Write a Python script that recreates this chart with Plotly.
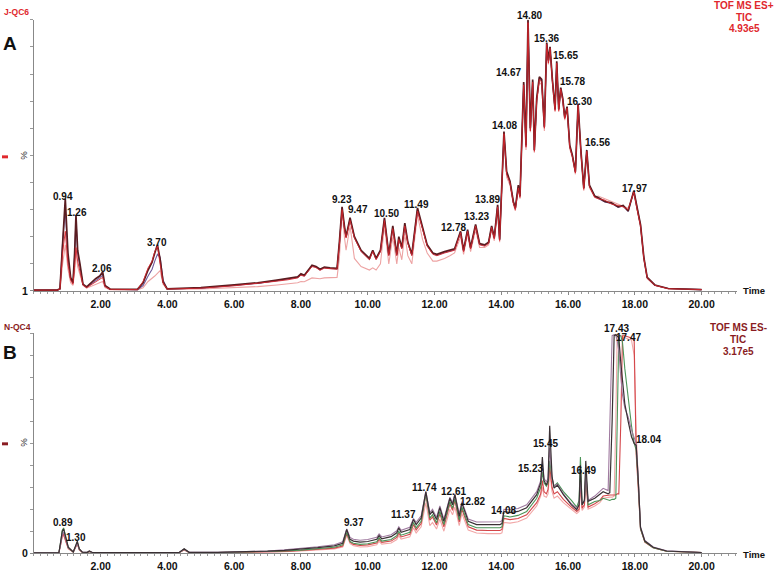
import numpy as np
import plotly.graph_objects as go

# ---------------- DATA: panel A (TOF MS ES+, TIC 4.93e5) ----------------
tA = [0.0, 0.70, 0.78, 0.86, 0.94, 1.02, 1.10, 1.17, 1.22, 1.26,
      1.31, 1.38, 1.47, 1.58, 1.70, 1.85, 1.97, 2.06, 2.13, 2.28,
      3.10, 3.27, 3.42, 3.54, 3.62, 3.70, 3.78, 3.87, 3.99, 5.00,
      6.00, 6.70, 7.28, 7.60, 7.90, 8.00, 8.10, 8.33, 8.45, 8.57,
      8.70, 8.87, 9.08, 9.15, 9.23, 9.30, 9.35, 9.47, 9.60, 9.80,
      10.05, 10.15, 10.25, 10.38, 10.50, 10.63, 10.75, 10.87, 10.93, 11.02,
      11.11, 11.20, 11.32, 11.49, 11.64, 11.78, 11.95, 12.07, 12.30, 12.46,
      12.60, 12.78, 12.87, 12.99, 13.08, 13.23, 13.35, 13.50, 13.62, 13.71,
      13.79, 13.89, 13.95, 14.08, 14.16, 14.26, 14.36, 14.42, 14.51, 14.56,
      14.61, 14.67, 14.74, 14.80, 14.87, 14.94, 14.99, 15.06, 15.14, 15.21,
      15.29, 15.36, 15.41, 15.46, 15.53, 15.57, 15.61, 15.66, 15.72, 15.78,
      15.84, 15.90, 15.97, 16.05, 16.13, 16.22, 16.30, 16.38, 16.47, 16.56,
      16.64, 16.80, 16.90, 17.10, 17.30, 17.50, 17.65, 17.80, 17.97, 18.07,
      18.17, 18.27, 18.37, 18.60, 19.00, 20.00]

A_dark = [0.3, 0.3, 0.8, 20, 34, 14, 5, 3, 14, 28,
          15, 10, 2.5, 1.5, 3, 4.5, 5.5, 7, 2, 0.7,
          0.6, 3, 7.7, 10.6, 14, 17, 11.7, 3.3, 0.8, 1.2,
          2.2, 3.0, 4.0, 4.5, 5.2, 6.3, 5.8, 9.5, 9.0, 8.0,
          8.8, 8.5, 8.3, 18, 31, 24, 20, 27, 20, 15,
          12, 15, 12, 15, 27, 13.5, 24, 13.5, 20, 16,
          25, 18, 13.5, 30.6, 23, 17, 14, 13.5, 14.5, 15,
          15.5, 22, 15, 22.6, 16, 24.5, 17.5, 17, 18, 24,
          19.7, 31.8, 19, 58.8, 44, 40.5, 33, 30.6, 39, 35,
          55, 77, 53.7, 100, 60, 78, 52, 71, 79, 78,
          60.6, 91.6, 85, 90, 78, 72, 67, 84.7, 67, 75,
          71, 64, 68, 53.7, 50, 44, 69, 52.5, 38, 52,
          39, 35, 34.5, 33, 32.5, 31, 31.5, 29.5, 37, 30.6,
          24.5, 12.4, 5, 2.2, 0.9, 0.5]

A_red = [0.3, 0.3, 0.6, 14, 22, 10, 4, 2.5, 9, 16,
         11, 7, 2.2, 1.2, 2.2, 3.5, 4.2, 5, 1.6, 0.6,
         0.5, 3.5, 8.5, 11, 14.5, 16.5, 10, 3, 0.7, 1.0,
         1.9, 2.7, 3.6, 4.1, 4.8, 5.8, 5.4, 9, 8.6, 7.6,
         8.4, 8.2, 8.0, 17, 30, 23, 19.5, 26, 19.5, 14.5,
         11.5, 14.5, 11.5, 14.5, 26, 13, 23, 13, 19, 15.5,
         24, 17.5, 13, 29.5, 22.5, 16.5, 13.5, 13, 14, 14.5,
         15, 21.5, 14.5, 22, 15.5, 24, 17, 16.5, 17.5, 23.5,
         19.2, 31, 18.6, 58, 43, 40, 32.5, 30, 38, 34.5,
         54, 76, 53, 99, 59, 77, 51.5, 70, 78, 77,
         60, 91, 84, 89.5, 77.5, 71.5, 66.5, 84, 66.5, 74.5,
         70.5, 63.5, 67.5, 53, 49.5, 43.5, 68.5, 52, 37.5, 51.5,
         38.5, 34.5, 34, 33.5, 32, 31.5, 31, 30, 36.5, 30,
         24, 12, 4.8, 2.1, 0.8, 0.5]

A_pink = [0.3, 0.3, 0.5, 10, 17, 8, 3, 2, 7, 15,
          9, 6, 2, 1, 1.6, 2.2, 2.8, 3.5, 1.2, 0.5,
          0.4, 1.2, 3.5, 4.5, 5.5, 6.5, 7.5, 2.5, 0.6, 0.7,
          1.2, 1.6, 2.2, 2.6, 3.0, 3.5, 3.4, 4.8, 4.7, 4.5,
          4.8, 4.9, 5.0, 12, 29.5, 20, 15, 24, 12, 9,
          7.7, 8.5, 7.7, 10, 24, 10, 20, 10, 16, 11.5,
          21, 13, 10, 28, 19, 14, 11, 11, 12, 13,
          14, 20, 13.5, 21, 14.5, 22.5, 16, 16, 17, 22.5,
          18.5, 30, 18, 57, 42, 39, 32, 29.5, 37.5, 34,
          53, 75, 52, 98, 58.5, 76, 51, 69.5, 77, 76,
          59, 90, 83.5, 89, 77, 71, 66, 83.5, 66, 74,
          70, 63, 67, 52.5, 49, 43, 68, 51.5, 37, 51,
          38, 34.5, 35, 34, 33, 32, 31.5, 30.5, 36, 30,
          23.5, 11.5, 4.5, 2, 0.8, 0.5]

A_purple = [0.3, 0.3, 0.7, 18, 30, 12, 4.5, 3, 13, 27,
            14, 9, 2.3, 1.3, 2.5, 3.8, 4.8, 5.8, 1.8, 0.6,
            0.5, 2, 5.5, 8, 11, 13.5, 12.5, 4, 0.7, 1.0,
            2.0, 2.8, 3.8, 4.3, 5, 6, 5.6, 9.2, 8.8, 7.8,
            8.6, 8.3, 8.1, 17.5, 30.5, 23.5, 19.8, 26.5, 19.8, 14.8,
            11.8, 14.8, 11.8, 14.8, 26.5, 13.2, 23.5, 13.2, 19.5, 15.8,
            24.5, 17.8, 13.2, 30, 22.8, 16.8, 13.8, 13.2, 14.2, 14.8,
            15.2, 21.8, 14.8, 22.3, 15.8, 24.2, 17.2, 16.8, 17.8, 23.8,
            19.5, 31.5, 18.8, 58.4, 43.5, 40.2, 32.8, 30.3, 38.5, 34.8,
            54.5, 76.5, 53.4, 99.5, 59.5, 77.5, 51.8, 70.5, 78.5, 77.5,
            60.3, 91.3, 84.5, 89.8, 77.8, 71.8, 66.8, 84.3, 66.8, 74.8,
            70.8, 63.8, 67.8, 53.4, 49.8, 43.8, 68.8, 52.3, 37.8, 51.8,
            38.8, 34.8, 34.2, 32.8, 32.3, 30.8, 31.3, 29.3, 36.8, 30.3,
            24.3, 12.2, 4.9, 2.1, 0.9, 0.5]

peaksA = ["0.94", "1.26", "2.06", "3.70", "9.23", "9.47", "10.50", "11.49",
          "12.78", "13.23", "13.89", "14.08", "14.67", "14.80", "15.36",
          "15.65", "15.78", "16.30", "16.56", "17.97"]

# ---------------- DATA: panel B (TOF MS ES-, TIC 3.17e5) ----------------
tB = [0.0, 0.75, 0.80, 0.85, 0.89, 0.95, 1.03, 1.18, 1.24, 1.30,
      1.36, 1.45, 1.60, 1.66, 1.75, 4.35, 4.50, 4.65, 5.5, 6.5,
      7.0, 7.5, 8.0, 8.5, 9.0, 9.25, 9.37, 9.47, 9.57, 9.77,
      10.0, 10.27, 10.34, 10.42, 10.7, 10.87, 10.93, 11.0, 11.26, 11.37,
      11.45, 11.6, 11.74, 11.86, 11.94, 12.06, 12.16, 12.28, 12.46, 12.54,
      12.61, 12.74, 12.82, 13.01, 13.26, 13.6, 13.96, 14.02, 14.08, 14.26,
      14.5, 14.76, 15.06, 15.18, 15.23, 15.28, 15.35, 15.40, 15.45, 15.52,
      15.58, 15.68, 15.86, 16.1, 16.26, 16.33, 16.37, 16.42, 16.49, 16.53,
      16.6, 16.8, 16.95, 17.05, 17.2, 17.25, 17.32, 17.38, 17.43, 17.47,
      17.52, 17.58, 17.63, 17.7, 17.8, 17.9, 17.98, 18.04, 18.1, 18.17,
      18.3, 18.55, 18.95, 20.0]

B_dark = [0.2, 0.3, 5, 10, 11, 7, 2.7, 0.6, 3, 5.5,
          2, 0.5, 0.4, 1, 0.3, 0.3, 2, 0.4, 0.4, 0.6,
          0.9, 1.3, 1.8, 2.5, 3.3, 4.5, 10.8, 6.3, 5.5, 5,
          5.3, 6.3, 8, 6.5, 7.5, 9.3, 11.5, 9.5, 10.8, 15.3,
          13, 16, 28, 17.6, 19, 15.3, 20.7, 14.5, 25, 22,
          26.6, 16.8, 22.8, 14.5, 13, 13, 13, 13.5, 19, 18.5,
          19, 20.7, 26.6, 32, 43.8, 33, 31, 33, 58, 35,
          29.6, 31, 26.6, 22, 19.8, 22, 40, 22, 24, 42,
          23.6, 25, 26.6, 28, 27, 27.5, 60, 99, 99.5, 99,
          98, 86.6, 80, 68, 60, 53, 50, 49, 34, 11.7,
          5.5, 2.7, 1, 0.3]

B_purple = [0.2, 0.3, 4, 8.5, 9.5, 6.5, 2.5, 0.6, 2.5, 4.5,
            1.8, 0.5, 0.4, 0.9, 0.3, 0.3, 1.8, 0.4, 0.4, 0.7,
            1.0, 1.5, 2.1, 2.9, 3.8, 5.2, 11, 7.2, 6.3, 5.9,
            6.2, 7.2, 8.8, 7.4, 8.4, 10.2, 12, 10.4, 11.8, 15.8,
            14, 17, 28, 18.5, 20, 16.3, 21.5, 15.5, 25.5, 23,
            27, 17.8, 23.5, 15.5, 14.2, 14.2, 14.3, 14.8, 20, 19.8,
            20.3, 22, 28, 33, 40, 34, 32.5, 34, 48, 34,
            30.5, 31.5, 27, 22.5, 20.5, 22, 33, 22.5, 24, 36,
            24, 26, 28, 29.5, 28.5, 60, 99, 99.5, 99, 97,
            92, 80, 72, 66, 62, 56, 52, 50, 35, 12,
            5.8, 2.8, 1.1, 0.3]

B_green = [0.2, 0.3, 5, 10.5, 11.5, 7, 2.5, 0.5, 2.5, 5,
           1.8, 0.4, 0.3, 0.8, 0.2, 0.2, 1.8, 0.3, 0.3, 0.5,
           0.7, 1.0, 1.4, 2.0, 2.7, 3.8, 9.5, 5.3, 4.5, 4,
           4.3, 5.2, 7, 5.5, 6.2, 8, 10, 8.2, 9.5, 14,
           11.5, 14.5, 27, 16, 17.5, 13.8, 19, 13, 23.5, 20.5,
           25, 15.2, 21, 13, 11.6, 11.6, 11.6, 12, 17, 16.5,
           17.2, 19, 25, 30, 37, 32, 30.5, 32, 42, 34,
           30.5, 32, 28, 24, 21, 24, 43.8, 22, 24, 38,
           22, 23.5, 24, 25, 24, 24, 24.5, 24.5, 25, 60,
           99, 99, 96, 84, 70, 58, 50, 47, 33, 11,
           5.2, 2.5, 0.9, 0.3]

B_red = [0.2, 0.3, 4, 8, 8.5, 6, 2.2, 0.5, 2.2, 4.5,
         1.6, 0.4, 0.3, 0.8, 0.2, 0.2, 1.6, 0.3, 0.3, 0.4,
         0.6, 0.8, 1.2, 1.7, 2.3, 3.3, 9, 5, 4, 3.5,
         3.8, 4.6, 6.3, 4.9, 5.5, 7.2, 9.2, 7.4, 8.6, 13,
         10.6, 13.5, 27, 15, 16.5, 12.8, 18, 12, 22.5, 19.5,
         24, 14.2, 20, 12, 10.5, 10.3, 10.3, 10.8, 15.8, 15.3,
         15.8, 17.5, 23, 27, 33, 28, 27, 29, 40, 30,
         27, 28, 24.5, 21, 19, 20, 33, 20.5, 22, 35,
         21, 22.5, 24, 26, 26.5, 26.5, 26.5, 26.5, 26.5, 27,
         27, 60, 99, 99, 98.5, 98, 97, 45, 30, 11,
         5, 2.5, 0.9, 0.3]

B_pink = [0.2, 0.3, 3.5, 7.5, 8, 5.5, 2, 0.5, 2, 4,
          1.4, 0.3, 0.2, 0.7, 0.2, 0.2, 1.4, 0.2, 0.2, 0.3,
          0.5, 0.7, 1.0, 1.4, 1.9, 2.8, 8, 4.3, 3.4, 2.8,
          3.0, 3.8, 5.4, 4.1, 4.6, 6.2, 8, 6.4, 7.5, 11.5,
          9.2, 12, 23, 12.5, 14, 11, 15.5, 10, 20, 17.5,
          21, 12.5, 18, 10.5, 9.2, 8.9, 8.9, 9.3, 14, 13.7,
          14.3, 16, 21.5, 26, 30, 26, 25.5, 27, 37, 28,
          25, 26, 23, 20, 18, 19, 30, 19.5, 21, 33,
          20, 21.5, 23, 25, 25.5, 25.5, 25.5, 26, 60, 99,
          99, 99, 98.5, 98, 97.5, 97, 90, 55, 32, 11,
          5, 2.5, 0.9, 0.3]

peaksB = ["0.89", "1.30", "9.37", "11.37", "11.74", "12.61", "12.82", "14.08",
          "15.23", "15.45", "16.49", "17.43", "17.47", "18.04"]

xticks = [2, 4, 6, 8, 10, 12, 14, 16, 18, 20]
xticktext = ["2.00", "4.00", "6.00", "8.00", "10.00", "12.00", "14.00", "16.00", "18.00", "20.00"]

# ---------------- STYLE ----------------
W, H = 776, 576
def PX(x): return x / W
def PY(y): return 1 - y / H

# label pixel offsets (dx right, dy up)
offA = [(-2, 2), (1, 3), (-1, 3), (0, 2), (0, 7), (8, 8), (2, 4), (-1, 3),
        (-7, 4), (1, 8), (-10, 5), (1, 6), (-15, 10), (1, 4), (0, 4),
        (9, 15), (12, 6), (1, 2), (11, 7), (1, 2)]
offB = [(-1, 7), (-1, 4), (7, 7), (-10, 5), (-1, 4), (-1, 3), (11, 2), (0, 1),
        (-12, -12), (-4, -18), (-1, 30), (1, 6), (11, -2), (12, 6)]

fig = go.Figure()

tracesA = [(A_pink, "#eda3a3", 1.1), (A_purple, "#6f5a9e", 1.1),
           (A_dark, "#5a1c20", 1.7), (A_red, "#d3262c", 0.9)]
for ys, col, w in tracesA:
    fig.add_trace(go.Scatter(x=tA, y=ys, mode="lines", line=dict(color=col, width=w),
                             xaxis="x", yaxis="y", hoverinfo="skip"))

tracesB = [(B_pink, "#f2a8a8", 1.1), (B_red, "#d4464a", 1.1), (B_green, "#4b9458", 1.1),
           (B_purple, "#a07aa0", 1.1), (B_dark, "#3a3034", 1.2)]
for ys, col, w in tracesB:
    fig.add_trace(go.Scatter(x=tB, y=ys, mode="lines", line=dict(color=col, width=w),
                             xaxis="x2", yaxis="y2", hoverinfo="skip"))

font_family = "Liberation Sans, Arial, sans-serif"
axis_x = dict(range=[0, 21.06], tickmode="array", tickvals=xticks, ticktext=xticktext,
              ticks="outside", ticklen=3, tickcolor="#888", showgrid=False, zeroline=False,
              showline=True, linecolor="#888", linewidth=1,
              tickfont=dict(family=font_family, size=10.5, color="#111", weight="bold"),
              minor=dict(tickmode="linear", tick0=0, dtick=0.2, ticks="outside", ticklen=2,
                         tickcolor="#999", showgrid=False))
axis_y = dict(range=[0, 100], tickmode="array", tickvals=[0], ticks="outside", ticklen=3,
              tickcolor="#888", showgrid=False, zeroline=False, showline=True,
              linecolor="#888", linewidth=1,
              tickfont=dict(family=font_family, size=10.5, color="#111", weight="bold"),
              minor=dict(tickmode="linear", tick0=0, dtick=10, ticks="outside", ticklen=3,
                         tickcolor="#999", showgrid=False))

xdom = [PX(33.9), PX(737)]
fig.update_layout(
    width=W, height=H, margin=dict(l=0, r=0, t=0, b=0), autosize=False,
    paper_bgcolor="white", plot_bgcolor="white", showlegend=False, hovermode=False,
    xaxis=dict(axis_x, domain=xdom, anchor="y"),
    yaxis=dict(axis_y, domain=[PY(294), PY(20)], anchor="x", ticktext=["1"]),
    xaxis2=dict(axis_x, domain=xdom, anchor="y2"),
    yaxis2=dict(axis_y, domain=[PY(559), PY(337)], anchor="x2", ticktext=["0"]),
)

ann = []
def label(text, x, y, size, color, bold=True, xanchor="left", yanchor="middle", angle=0):
    ann.append(dict(text=text, x=PX(x), y=PY(y), xref="paper", yref="paper", showarrow=False,
                    xanchor=xanchor, yanchor=yanchor, textangle=angle,
                    font=dict(family=font_family, size=size, color=color,
                              weight="bold" if bold else "normal")))

# panel titles
label("J-QC6", 2, 12, 8.5, "#e0282d")
label("A", 1, 44, 19, "#111")
label("N-QC4", 2, 330, 8.5, "#8a1c22")
label("B", 1, 356, 19, "#111")
# percent labels
label("%", 25, 158, 9.5, "#333", bold=False, xanchor="center", angle=90)
label("%", 25, 448, 9.5, "#333", bold=False, xanchor="center", angle=90)
# instrument info
for i, s in enumerate(["TOF MS ES+", "TIC", "4.93e5"]):
    label(s, 744, 6 + i * 11.5, 10, "#e0282d", xanchor="center")
for i, s in enumerate(["TOF MS ES-", "TIC", "3.17e5"]):
    label(s, 738, 331 + i * 12, 10, "#8a1c22", xanchor="center")
# Time labels
label("Time", 741, 294, 9.5, "#111")
label("Time", 741, 560, 9.5, "#111")

# peak labels, anchored on the data
for txt, (dx, dy) in zip(peaksA, offA):
    t = float(txt)
    v = float(np.interp(t, tA, A_dark))
    ann.append(dict(text=txt, x=t, y=v, xref="x", yref="y", showarrow=False,
                    xanchor="center", yanchor="middle", xshift=dx, yshift=dy,
                    font=dict(family=font_family, size=10, color="#111", weight="bold")))
for txt, (dx, dy) in zip(peaksB, offB):
    t = float(txt)
    v = float(np.interp(t, tB, B_dark))
    ann.append(dict(text=txt, x=t, y=v, xref="x2", yref="y2", showarrow=False,
                    xanchor="center", yanchor="middle", xshift=dx, yshift=dy,
                    font=dict(family=font_family, size=10, color="#111", weight="bold")))

fig.update_layout(annotations=ann)

# small legend dashes next to the % labels
fig.add_shape(type="rect", xref="paper", yref="paper", x0=PX(2), x1=PX(8), y0=PY(160), y1=PY(157),
              fillcolor="#e0282d", line=dict(width=0))
fig.add_shape(type="rect", xref="paper", yref="paper", x0=PX(2), x1=PX(8), y0=PY(450), y1=PY(447),
              fillcolor="#8a1c22", line=dict(width=0))

fig.write_html("out.html", config={"displayModeBar": False, "staticPlot": True},
               post_script="document.body.style.margin='0px';document.body.style.overflow='hidden';")
